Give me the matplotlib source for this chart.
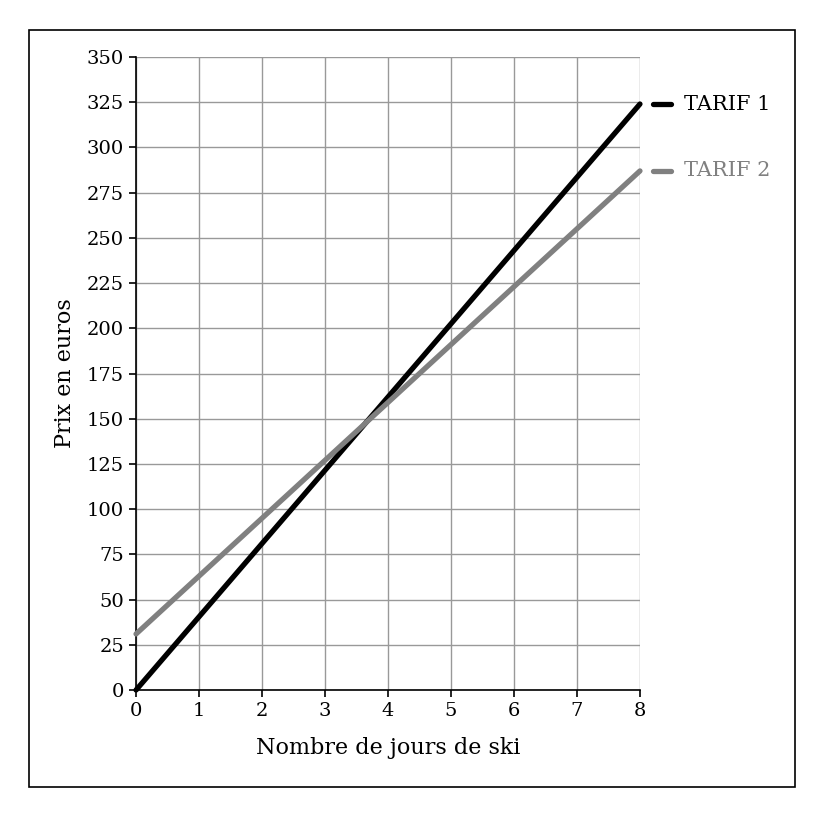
import matplotlib
matplotlib.use("Agg")
import matplotlib.pyplot as plt
from matplotlib.patches import Rectangle

# values
jours = [0, 8]
tarif1 = [0, 324]
tarif2 = [31, 287]
series_names = ["TARIF 1", "TARIF 2"]
series_colors = ["#000000", "#808080"]
y_ticks = list(range(0, 351, 25))
x_ticks = list(range(0, 9))

plt.rcParams['font.family'] = ['DejaVu Serif']

fig = plt.figure(figsize=(8.21, 8.14), dpi=100)
ax = fig.add_axes([0.1657, 0.1523, 0.6138, 0.7777])

for vals, name, col in zip([tarif1, tarif2], series_names, series_colors):
    ax.plot(jours, vals, color=col, lw=3.8, solid_capstyle='round', zorder=3, clip_on=False)
    # legend marker + label at the end of each line
    ax.plot([8.2, 8.5], [vals[-1], vals[-1]], color=col, lw=3.8, solid_capstyle='round', clip_on=False)
    ax.text(8.7, vals[-1], name, color=col, fontsize=15, va='center', ha='left')

ax.set_xlim(0, 8)
ax.set_ylim(0, 350)
ax.set_xticks(x_ticks)
ax.set_yticks(y_ticks)
ax.grid(True, color='#999999', lw=1)
ax.set_axisbelow(True)
for s in ['top', 'right']:
    ax.spines[s].set_visible(False)
for s in ['left', 'bottom']:
    ax.spines[s].set_color('black')
    ax.spines[s].set_linewidth(1.2)
ax.tick_params(direction='out', length=5, width=1.2, labelsize=14)

ax.set_xlabel("Nombre de jours de ski", fontsize=16, labelpad=12)
ax.set_ylabel("Prix en euros", fontsize=16, labelpad=8)

# outer frame
fig.patches.append(Rectangle((0.0353, 0.0332), 0.933, 0.930, transform=fig.transFigure,
                             fill=False, edgecolor='black', lw=1.2))

fig.savefig("out.png", dpi=100)
